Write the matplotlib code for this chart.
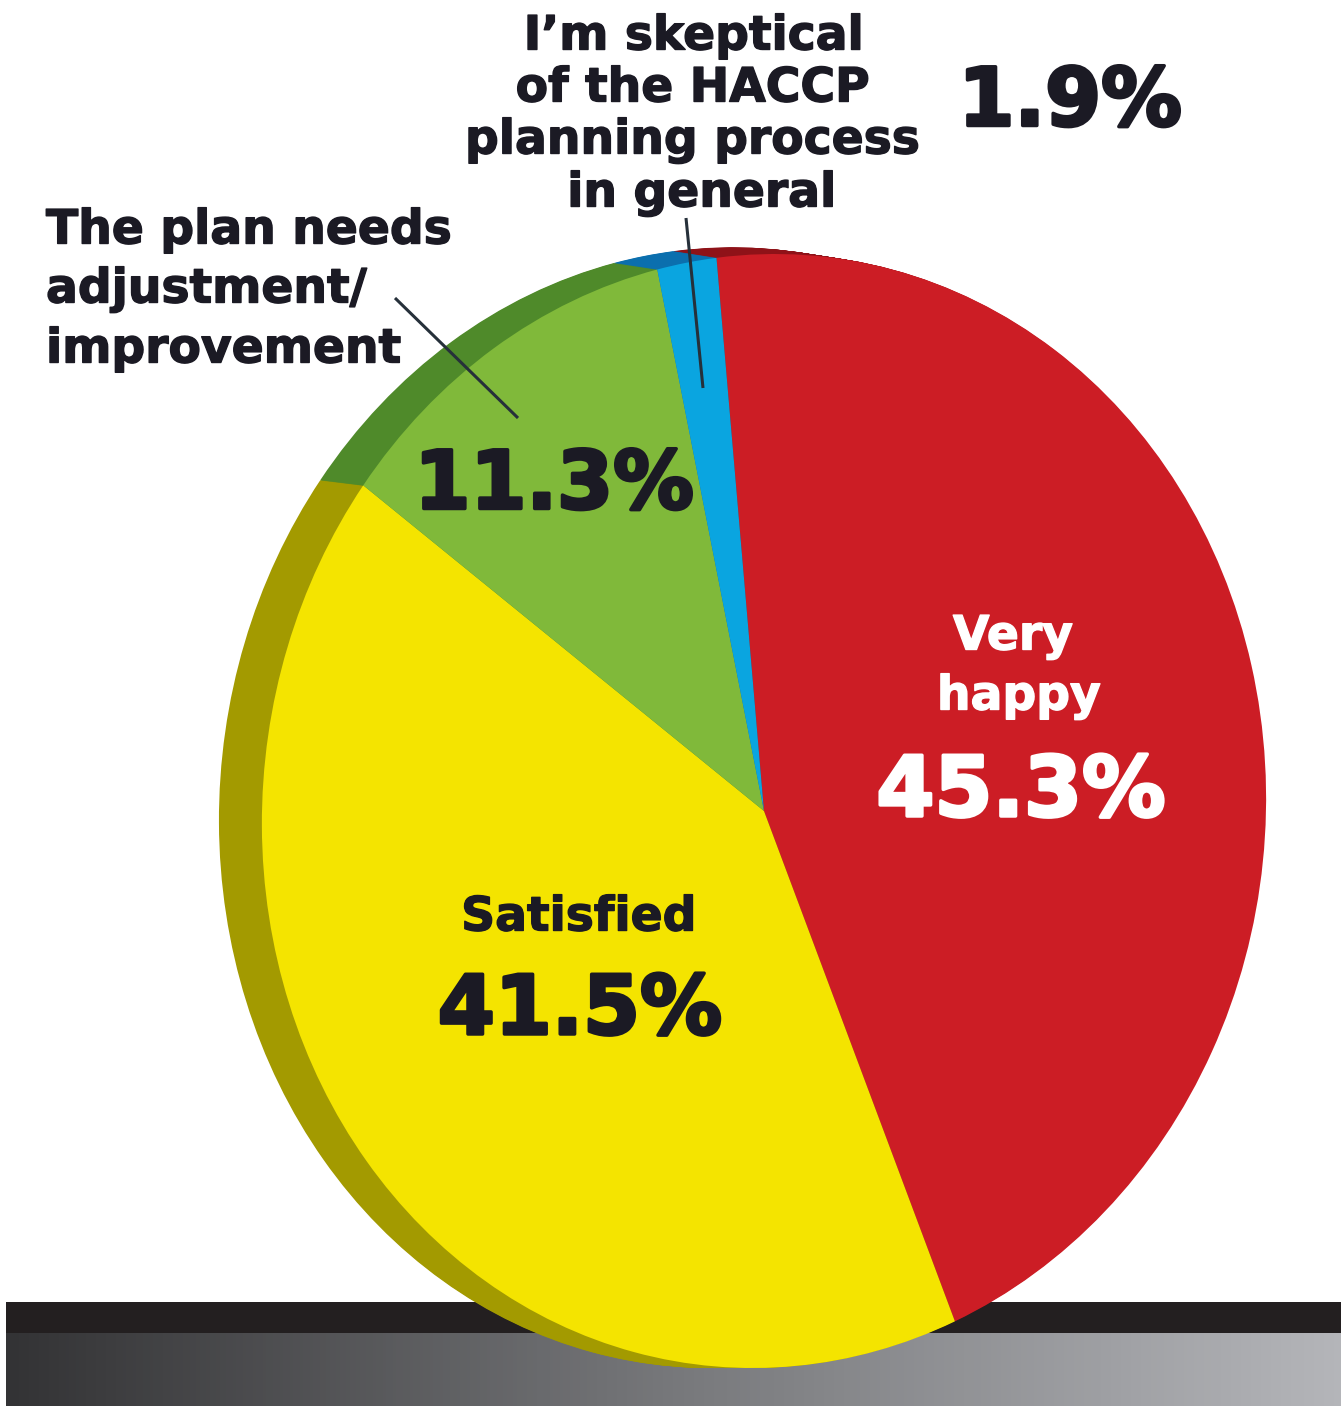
import numpy as np
import matplotlib
matplotlib.use('Agg')  # Use a non-GUI backend
import matplotlib.pyplot as plt
import matplotlib.patheffects as pe
from matplotlib.colors import LinearSegmentedColormap
from matplotlib.transforms import Affine2D

W, H = 1341, 1406

# Survey results, clockwise from the top
categories = ["Very happy", "Satisfied", "The plan needs adjustment/improvement",
              "I'm skeptical of the HACCP planning process in general"]
shares = [45.3, 41.5, 11.3, 1.9]
face_colors = ['#cc1d25', '#f4e400', '#80b93a', '#0aa5e0']
side_colors = ['#8f1218', '#a39a00', '#4f8a2a', '#0b6fae']
floor_colors = ['#333335', '#77787b', '#b4b5b9']

# Pie geometry in pixels
cx, cy = 764, 811
rx, ry = 502, 557
depth = 43
start = 96.7
lean = 0.02  # the ellipse leans slightly to the right at the top

INK = '#1b1a24'
FONT = 'DejaVu Sans'

fig = plt.figure(figsize=(W / 100, H / 100), dpi=100, facecolor='white')

# Floor, in pixel coordinates
ax_bg = fig.add_axes([0, 0, 1, 1])
floor_cmap = LinearSegmentedColormap.from_list('floor', floor_colors)
ax_bg.imshow(np.linspace(0, 1, 400).reshape(1, -1), cmap=floor_cmap, aspect='auto',
             extent=(6, W, H, 1333), zorder=1)
ax_bg.set_xlim(0, W)
ax_bg.set_ylim(H, 0)
ax_bg.axis('off')
ax_bg.fill_between([6, W], 1302, 1333, color='#231f20', linewidth=0, zorder=2)

# Pie axes: one data unit is one radius, so the circle is drawn as a tall ellipse
ax_pie = fig.add_axes([0, 0, 1, 1])
ax_pie.patch.set_alpha(0)
shear = Affine2D.from_values(1, 0, lean * ry / rx, 1, 0, 0)

# Side of the disc: copies sliding out to the left, stretched upward from the bottom edge
for shift in range(depth, 0, -1):
    wedges, _ = ax_pie.pie(shares, colors=side_colors, startangle=start, counterclock=False,
                           radius=1, wedgeprops={'linewidth': 0})
    g = 0.006 * shift / depth
    slide = Affine2D().scale(1, 1 + g).translate(-shift / rx, g)
    for w in wedges:
        w.set_transform(slide + shear + ax_pie.transData)

wedges, _ = ax_pie.pie(shares, colors=face_colors, startangle=start, counterclock=False,
                       radius=1, wedgeprops={'linewidth': 0})
for w in wedges:
    w.set_transform(shear + ax_pie.transData)

ax_pie.set_aspect('auto')
ax_pie.set_xlim(-cx / rx, (W - cx) / rx)
ax_pie.set_ylim((cy - H) / ry, cy / ry)
ax_pie.axis('off')

# Labels and leader lines, in pixel coordinates
ax_txt = fig.add_axes([0, 0, 1, 1])
ax_txt.patch.set_alpha(0)
ax_txt.set_xlim(0, W)
ax_txt.set_ylim(H, 0)
ax_txt.axis('off')

ax_txt.plot([395, 518], [298, 418], color='#26303a', lw=2.2, solid_capstyle='butt')
ax_txt.plot([686, 703], [218, 388], color='#26303a', lw=2.2, solid_capstyle='butt')


def label(x, y, s, size, color=INK, stroke=1.0, ha='center'):
    ax_txt.text(x, y, s, fontsize=size, color=color, family=FONT, fontweight='bold',
                ha=ha, va='center_baseline',
                path_effects=[pe.withStroke(linewidth=stroke, foreground=color)])


for (x, y, s) in [(694, 32, "I’m skeptical"), (693, 84, "of the HACCP"),
                  (693, 136, "planning process"), (702, 189, "in general")]:
    label(x, y, s, 34)
for (y, s) in [(226, "The plan needs"), (285, "adjustment/"), (345, "improvement")]:
    label(46, y, s, 34, ha='left')

label(1070, 95, f"{shares[3]}%", 58, stroke=2.5)
label(554, 478, f"{shares[2]}%", 58, stroke=2.5)
label(1013, 632, "Very", 34, color='white')
label(1019, 692, "happy", 34, color='white')
label(1021, 784, f"{shares[0]}%", 60, color='white', stroke=2.5)
label(579, 913, "Satisfied", 34)
label(580, 1003, f"{shares[1]}%", 59, stroke=2.5)

fig.savefig('out.png', dpi=100)
plt.close(fig)
